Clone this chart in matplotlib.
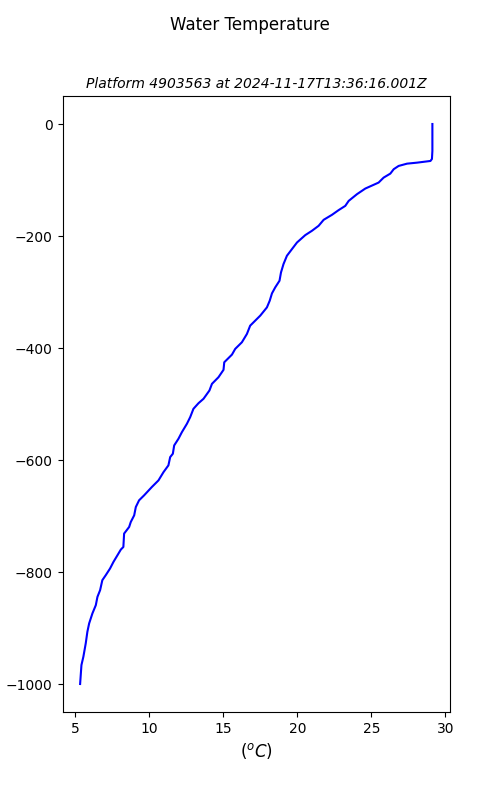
import matplotlib

matplotlib.use("Agg")
import matplotlib.pyplot as plt

# profile (temperature in degC, depth in m, negative down)
temperature = [
    29.12, 29.12, 29.09, 28.99, 28.09, 27.41, 26.84, 26.51, 26.28, 25.83,
    25.49, 24.59, 24.03, 23.47, 23.24, 22.79, 22.34, 21.78, 21.44, 20.99,
    20.54, 19.98, 19.64, 19.30, 19.07, 18.90, 18.80, 18.51, 18.29, 18.14,
    17.95, 17.50, 16.82, 16.60, 16.26, 15.81, 15.59, 15.07, 15.02, 14.68,
    14.24, 14.07, 13.67, 13.33, 12.99, 12.77, 12.55, 12.21, 11.98, 11.69,
    11.60, 11.42, 11.30, 10.97, 10.63, 10.18, 9.66, 9.32, 9.10, 8.99,
    8.76, 8.65, 8.31, 8.26, 8.09, 7.86, 7.59, 7.36, 7.07, 6.84,
    6.69, 6.51, 6.40, 6.17, 5.95, 5.83, 5.72, 5.56, 5.43, 5.34,
]
depth = [
    0, -48.1, -62.4, -66.0, -69.0, -70.8, -74.9, -80.7, -88.6, -95.7,
    -104.6, -115.3, -125.3, -137.3, -146.2, -153.8, -162.2, -171.1, -181.8, -190.7,
    -198.4, -211.6, -223.4, -235.3, -250.1, -265.1, -279.9, -291.8, -302.5, -315.5,
    -327.5, -342.2, -360.1, -374.9, -389.8, -401.6, -411.8, -425.5, -439.0, -452.2,
    -464.0, -475.9, -490.7, -498.6, -508.6, -523.5, -535.3, -550.3, -562.0, -574.0,
    -588.8, -594.8, -609.6, -621.6, -636.4, -648.3, -663.1, -672.0, -684.0, -698.8,
    -710.7, -719.6, -731.4, -755.3, -759.9, -770.1, -782.0, -793.8, -805.7, -814.6,
    -832.4, -844.4, -859.2, -874.0, -891.8, -906.8, -927.4, -951.3, -966.1, -1000.0,
]

platform = "4903563"
timestamp = "2024-11-17T13:36:16.001Z"

fig, ax = plt.subplots(figsize=(5, 8), dpi=100)
ax.plot(temperature, depth, color="blue", linewidth=1.5)
ax.set_title(f"Platform {platform} at {timestamp}", fontsize=10, style="italic")
ax.set_xlabel("($^oC$)", fontsize=12)
ax.set_ylabel("depth (m)")
fig.suptitle("Water Temperature")
fig.savefig("out.png")
plt.close(fig)
